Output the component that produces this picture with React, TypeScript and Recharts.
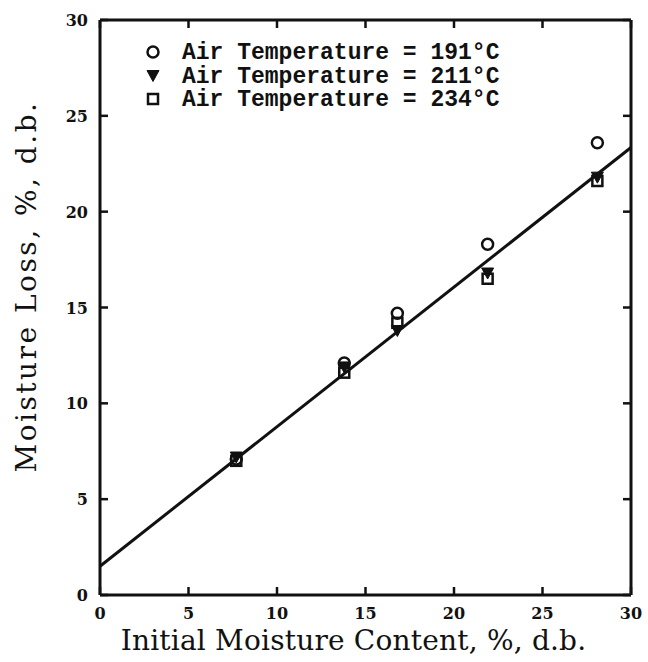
import { ComposedChart, Scatter, XAxis, YAxis } from "recharts";

// initial moisture content (% d.b.) and moisture loss for each air temperature
const moistureContent = [7.7, 13.8, 16.8, 21.9, 28.1];
const loss191 = [7.1, 12.1, 14.7, 18.3, 23.6];
const loss211 = [7.2, 11.9, 13.8, 16.8, 21.8];
const loss234 = [7.0, 11.6, 14.2, 16.5, 21.6];

// regression line end points
const fitX = [0, 30];
const fitY = [1.5, 23.35];

const axisTicks = [0, 5, 10, 15, 20, 25, 30];
const seriesNames = [
  "Air Temperature = 191°C",
  "Air Temperature = 211°C",
  "Air Temperature = 234°C",
];

const toPoints = (ys: number[]) =>
  moistureContent.map((x, i) => ({ x, y: ys[i] }));

const INK = "#111";
const TICK = -8; // negative size -> ticks point into the plot
const tickFont = { fontFamily: "DejaVu Serif", fontWeight: 700, fontSize: 16 };
const titleFont = { fontFamily: "DejaVu Serif", fontSize: 28 };
const axisStroke = { stroke: INK, strokeWidth: 3 };
const tickStroke = { stroke: INK, strokeWidth: 2.5 };

function BottomTick(props: any) {
  const { x, y, payload } = props;
  return (
    <text x={x} y={y + 15} textAnchor="middle" fill={INK} style={tickFont}>
      {payload.value}
    </text>
  );
}

function LeftTick(props: any) {
  const { x, y, payload } = props;
  return (
    <text x={x} y={y + 6} textAnchor="end" fill={INK} style={tickFont}>
      {payload.value}
    </text>
  );
}

const NoTick = () => <g />;

function OpenCircle(props: any) {
  const { cx, cy } = props;
  return <circle cx={cx} cy={cy} r={5.5} fill="none" stroke={INK} strokeWidth={2.5} />;
}

function DownTriangle(props: any) {
  const { cx, cy } = props;
  return (
    <path
      d={`M${cx - 6},${cy - 5} L${cx + 6},${cy - 5} L${cx},${cy + 6} Z`}
      fill={INK}
      stroke={INK}
      strokeWidth={1}
    />
  );
}

function OpenSquare(props: any) {
  const { cx, cy } = props;
  return (
    <rect x={cx - 5} y={cy - 5} width={10} height={10} fill="none" stroke={INK} strokeWidth={2.5} />
  );
}

const NoMark = () => <g />;

const markers = [OpenCircle, DownTriangle, OpenSquare];

function LegendBox() {
  return (
    <svg
      width={380}
      height={80}
      style={{ position: "absolute", left: 145, top: 40, pointerEvents: "none" }}
    >
      {seriesNames.map((name, i) => {
        const Mark = markers[i];
        const cy = 12 + i * 23.5;
        return (
          <g key={name}>
            <Mark cx={8} cy={cy} />
            <text
              x={37}
              y={cy + 7}
              fill={INK}
              style={{ fontFamily: "Liberation Mono", fontSize: 23, fontWeight: 700 }}
            >
              {name}
            </text>
          </g>
        );
      })}
    </svg>
  );
}

export default function App() {
  const fit = fitX.map((x, i) => ({ x, y: fitY[i] }));
  return (
    <div style={{ position: "absolute", left: 0, top: 0, width: 648, height: 662, background: "#fff" }}>
      <ComposedChart
        width={648}
        height={662}
        margin={{ top: 19, right: 16, bottom: 0, left: 0 }}
      >
        <XAxis
          type="number"
          dataKey="x"
          domain={[0, 30]}
          ticks={axisTicks}
          interval={0}
          tickSize={TICK}
          tickMargin={17}
          tickLine={tickStroke}
          tick={<BottomTick />}
          height={67}
          axisLine={axisStroke}
          label={{
            value: "Initial Moisture Content, %, d.b.",
            position: "insideBottom",
            offset: 12,
            dx: -12,
            fill: INK,
            style: { ...titleFont, letterSpacing: 0.2 },
          }}
        />
        <XAxis
          xAxisId="top"
          orientation="top"
          type="number"
          dataKey="x"
          domain={[0, 30]}
          ticks={axisTicks}
          interval={0}
          tickSize={TICK}
          tickLine={tickStroke}
          tick={<NoTick />}
          height={1}
          axisLine={axisStroke}
        />
        <YAxis
          type="number"
          dataKey="y"
          domain={[0, 30]}
          ticks={axisTicks}
          interval={0}
          tickSize={TICK}
          tickMargin={20}
          tickLine={tickStroke}
          tick={<LeftTick />}
          width={100}
          axisLine={axisStroke}
          label={{
            value: "Moisture Loss, %, d.b.",
            angle: -90,
            position: "insideLeft",
            offset: 12,
            dx: 14,
            dy: -21,
            fill: INK,
            style: { ...titleFont, letterSpacing: 2.5, textAnchor: "middle" },
          }}
        />
        <YAxis
          yAxisId="right"
          orientation="right"
          type="number"
          dataKey="y"
          domain={[0, 30]}
          ticks={axisTicks}
          interval={0}
          tickSize={TICK}
          tickLine={tickStroke}
          tick={<NoTick />}
          width={1}
          axisLine={axisStroke}
        />
        <Scatter
          xAxisId="top"
          yAxisId="right"
          data={fit}
          shape={<NoMark />}
          line={{ stroke: INK, strokeWidth: 3 }}
          isAnimationActive={false}
        />
        <Scatter data={toPoints(loss211)} shape={<DownTriangle />} isAnimationActive={false} />
        <Scatter data={toPoints(loss234)} shape={<OpenSquare />} isAnimationActive={false} />
        <Scatter data={toPoints(loss191)} shape={<OpenCircle />} isAnimationActive={false} />
      </ComposedChart>
      <LegendBox />
    </div>
  );
}
